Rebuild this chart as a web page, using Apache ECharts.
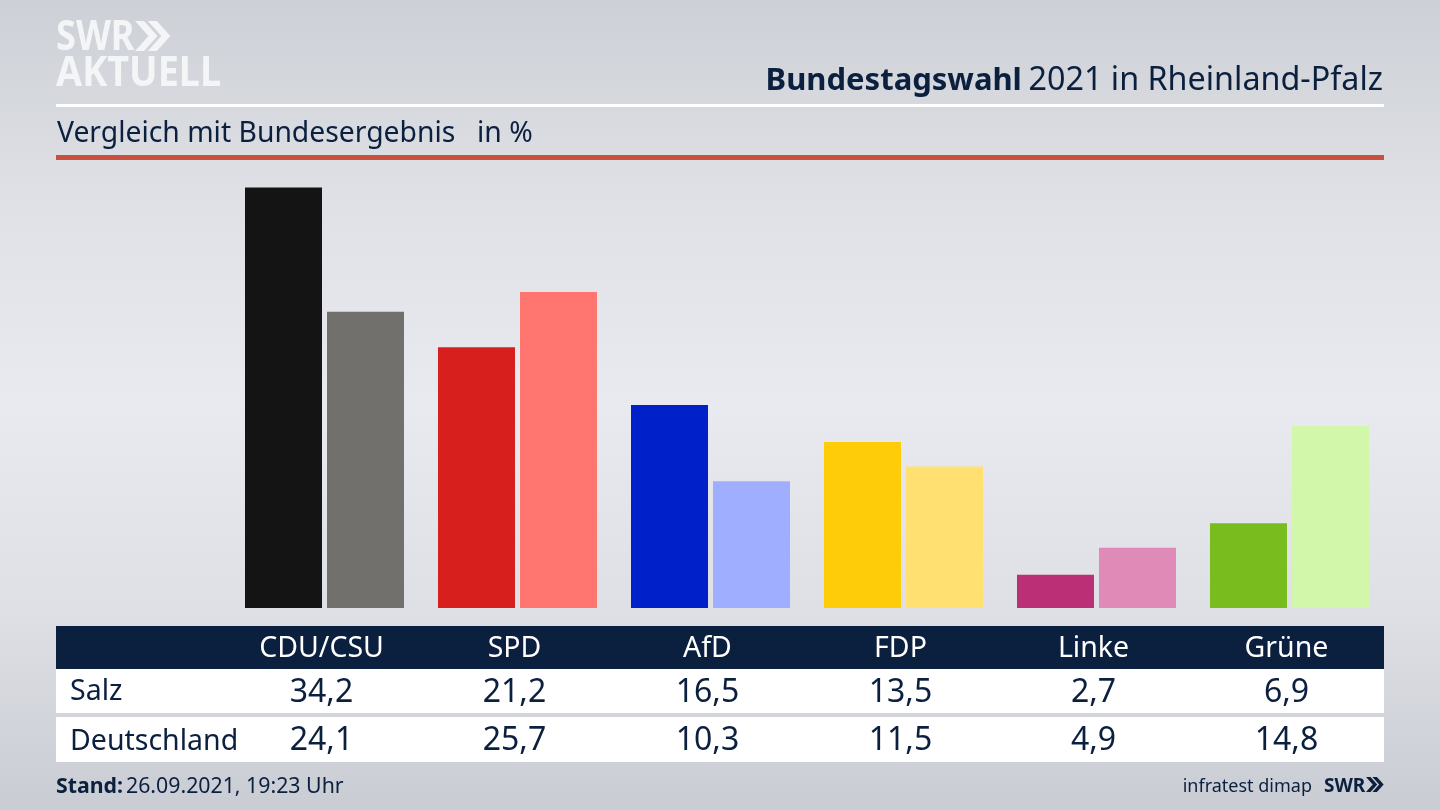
<!DOCTYPE html>
<html lang="de">
<head>
    <meta charset="UTF-8">
    <title>Bundestagswahl 2021 in Rheinland-Pfalz</title>
    <style type="text/css">
        * { margin: 0; padding: 0; }
        html, body { width: 100%; height: 100%; overflow: hidden; }
        #main { width: 1440px; height: 810px; }
    </style>
</head>
<body>
<div id="main"></div>
<script src="https://cdn.jsdelivr.net/npm/echarts@6/dist/echarts.min.js"></script>
<script>
    var parties = ['CDU/CSU', 'SPD', 'AfD', 'FDP', 'Linke', 'Grüne'];
    var salz = [34.2, 21.2, 16.5, 13.5, 2.7, 6.9];
    var deutschland = [24.1, 25.7, 10.3, 11.5, 4.9, 14.8];
    var salzColors = ['#141414', '#d71f1d', '#0021c9', '#ffcc0a', '#bb2f77', '#78bc1e'];
    var deutschlandColors = ['#72706d', '#ff7570', '#a0aeff', '#ffe070', '#e08ab8', '#d2f6aa'];

    var font = '"Noto Sans", sans-serif';
    var navy = '#0b1f3f';
    var myChart = echarts.init(document.getElementById('main'));

    function fmt(v) {
        return v.toFixed(1).replace('.', ',');
    }

    function rect(x, y, w, h, color) {
        return { type: 'rect', silent: true, z: -1, shape: { x: x, y: y, width: w, height: h }, style: { fill: color } };
    }

    function text(x, y, str, size, color, weight, align, scaleX) {
        return {
            type: 'text', silent: true, x: x, y: y, scaleX: scaleX || 1,
            style: { text: str, font: (weight || 'normal') + ' ' + size + 'px ' + font, fill: color, textAlign: align || 'left', textVerticalAlign: 'middle' }
        };
    }

    function chevrons(x, y, h, color) {
        var w = h * 0.45, t = h * 0.3;
        return [0, 1].map(function (i) {
            var dx = x + i * (w * 0.95);
            return {
                type: 'polygon', silent: true,
                shape: { points: [[dx, y], [dx + t, y], [dx + t + w, y + h / 2], [dx + t, y + h], [dx, y + h], [dx + w, y + h / 2]] },
                style: { fill: color }
            };
        });
    }

    // one label-only axis per table row, labels sit 3px left of the bar groups
    function rowAxis(labels, offset, color, size) {
        return {
            type: 'category',
            position: 'bottom',
            offset: offset,
            data: labels,
            axisLine: { show: false },
            axisTick: { show: false },
            axisLabel: { interval: 0, margin: 0, color: color, fontFamily: font, fontSize: size, lineHeight: 36, verticalAlign: 'middle', padding: [0, 6, 0, 0] }
        };
    }

    var option = {
        animation: false,
        backgroundColor: {
            type: 'linear', x: 0, y: 0, x2: 0, y2: 1,
            colorStops: [
                { offset: 0, color: '#cdd0d6' },
                { offset: 0.25, color: '#dfe1e6' },
                { offset: 0.5, color: '#e9eaef' },
                { offset: 0.75, color: '#dee0e5' },
                { offset: 1, color: '#c9ccd3' }
            ]
        },
        grid: { left: 228, width: 1158, top: 177.6, height: 430.4 },
        xAxis: [
            rowAxis(parties, 41, '#ffffff', 28.5),
            rowAxis(salz.map(fmt), 85, navy, 32),
            rowAxis(deutschland.map(fmt), 133, navy, 32)
        ],
        yAxis: { type: 'value', min: 0, max: 35, show: false },
        series: [
            {
                name: 'Salz', type: 'bar', barWidth: 77, barGap: '6.5%',
                data: salz.map(function (v, i) { return { value: v, itemStyle: { color: salzColors[i] } }; })
            },
            {
                name: 'Deutschland', type: 'bar', barWidth: 77, barGap: '6.5%',
                data: deutschland.map(function (v, i) { return { value: v, itemStyle: { color: deutschlandColors[i] } }; })
            }
        ],
        graphic: [
            rect(56, 104, 1328, 3, '#ffffff'),
            rect(56, 155, 1328, 5, '#c9503f'),
            rect(56, 626, 1328, 43, navy),
            rect(56, 669, 1328, 44, '#ffffff'),
            rect(56, 717, 1328, 45, '#ffffff'),
            text(56, 38, 'SWR', 42, '#f4f5f7', 'bold', 'left', 0.86),
            text(56, 74, 'AKTUELL', 42, '#f4f5f7', 'bold', 'left', 0.9),
            {
                type: 'text', silent: true, x: 1383, y: 81,
                style: {
                    text: '{b|Bundestagswahl}  {n|2021 in Rheinland-Pfalz}',
                    align: 'right', verticalAlign: 'middle',
                    rich: {
                        b: { font: 'bold 31px ' + font, fill: navy },
                        n: { font: 'normal 32.3px ' + font, fill: navy }
                    }
                }
            },
            text(57, 134, 'Vergleich mit Bundesergebnis', 28.3, navy),
            text(477, 134, 'in %', 28.3, navy),
            text(70, 692, 'Salz', 28.5, navy),
            text(70, 742, 'Deutschland', 28.5, navy),
            text(56, 787, 'Stand:', 21.3, navy, 'bold'),
            text(126, 787, '26.09.2021, 19:23 Uhr', 21.3, navy),
            text(1312, 787, 'infratest dimap', 18, navy, 'normal', 'right'),
            text(1324, 787, 'SWR', 19, navy, 'bold')
        ].concat(chevrons(135, 21, 30, '#f4f5f7'), chevrons(1366, 777, 15, navy))
    };

    myChart.setOption(option);
    window.onresize = function () {
        myChart.resize();
    };
</script>
</body>
</html>
